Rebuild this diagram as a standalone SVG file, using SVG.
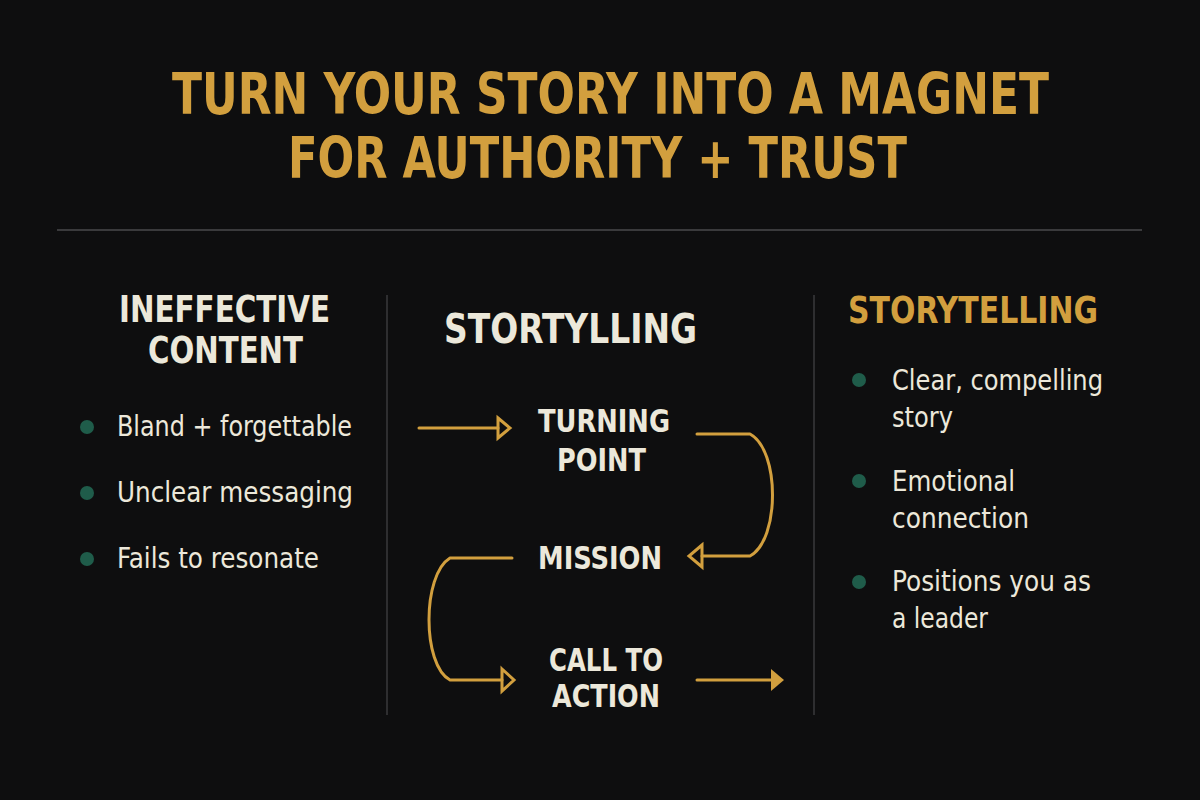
<svg xmlns="http://www.w3.org/2000/svg" width="1200" height="800" viewBox="0 0 1200 800">
<defs>
<style>
.bg{fill:#0e0e0f}
.title{font-family:"Liberation Sans Narrow","DejaVu Sans Condensed","Roboto",sans-serif;font-weight:bold;font-size:57px;fill:#d29f3e}
.head{font-family:"Liberation Sans Narrow","DejaVu Sans Condensed","Roboto",sans-serif;font-weight:bold;font-size:37px;fill:#ece8da}
.gold{fill:#d29f3e}
.step{font-family:"Liberation Sans Narrow","DejaVu Sans Condensed","Roboto",sans-serif;font-weight:bold;font-size:32px;fill:#ece8da;text-anchor:start}
.body{font-family:"Liberation Sans Narrow","DejaVu Sans Condensed","Roboto",sans-serif;font-size:29px;fill:#ece8da}
.dot{fill:#1f5c4a}
.rule{stroke:#3a3a3c;stroke-width:2}
.vrule{stroke:#3a3a3c;stroke-width:1.5}
.conn{fill:none;stroke:#d29f3e;stroke-width:3;stroke-linecap:round;stroke-linejoin:round}
.tri{fill:none;stroke:#d29f3e;stroke-width:3;stroke-linejoin:miter}
.trif{fill:#d29f3e}
</style>
</defs>
<rect class="bg" x="0" y="0" width="1200" height="800"/>

<g id="title">
<text class="title" x="172" y="114" textLength="877" lengthAdjust="spacingAndGlyphs">TURN YOUR STORY INTO A MAGNET</text>
<text class="title" x="288" y="178" textLength="619" lengthAdjust="spacingAndGlyphs">FOR AUTHORITY + TRUST</text>
</g>

<g id="dividers">
<line class="rule" x1="57" y1="230" x2="1142" y2="230"/>
<line class="vrule" x1="387" y1="295" x2="387" y2="715"/>
<line class="vrule" x1="814" y1="295" x2="814" y2="715"/>
</g>

<g id="ineffective">
<text class="head" x="119" y="322" textLength="211" lengthAdjust="spacingAndGlyphs">INEFFECTIVE</text>
<text class="head" x="148" y="363" textLength="155" lengthAdjust="spacingAndGlyphs">CONTENT</text>
<circle class="dot" cx="87" cy="427" r="7"/>
<text class="body" x="117" y="436" textLength="235" lengthAdjust="spacingAndGlyphs">Bland + forgettable</text>
<circle class="dot" cx="87" cy="493" r="7"/>
<text class="body" x="117" y="502" textLength="236" lengthAdjust="spacingAndGlyphs">Unclear messaging</text>
<circle class="dot" cx="87" cy="559" r="7"/>
<text class="body" x="117" y="568" textLength="202" lengthAdjust="spacingAndGlyphs">Fails to resonate</text>
</g>

<g id="stortylling">
<text class="head" x="444" y="343" textLength="253" lengthAdjust="spacingAndGlyphs" style="font-size:40px">STORTYLLING</text>
</g>

<g id="turning-point">
<text class="step" x="538" y="432" textLength="132" lengthAdjust="spacingAndGlyphs">TURNING</text>
<text class="step" x="557" y="471" textLength="89" lengthAdjust="spacingAndGlyphs">POINT</text>
</g>

<g id="mission">
<text class="step" x="538" y="569" textLength="124" lengthAdjust="spacingAndGlyphs">MISSION</text>
</g>

<g id="call-to-action">
<text class="step" x="549" y="671" textLength="114" lengthAdjust="spacingAndGlyphs">CALL TO</text>
<text class="step" x="552" y="707" textLength="108" lengthAdjust="spacingAndGlyphs">ACTION</text>
</g>

<g id="storytelling">
<text class="head gold" x="848" y="323" textLength="250" lengthAdjust="spacingAndGlyphs">STORYTELLING</text>
<circle class="dot" cx="859" cy="380" r="7"/>
<text class="body" x="892" y="390" textLength="211" lengthAdjust="spacingAndGlyphs">Clear, compelling</text>
<text class="body" x="892" y="427" textLength="61" lengthAdjust="spacingAndGlyphs">story</text>
<circle class="dot" cx="859" cy="481" r="7"/>
<text class="body" x="892" y="491" textLength="123" lengthAdjust="spacingAndGlyphs">Emotional</text>
<text class="body" x="892" y="528" textLength="137" lengthAdjust="spacingAndGlyphs">connection</text>
<circle class="dot" cx="859" cy="582" r="7"/>
<text class="body" x="892" y="591" textLength="199" lengthAdjust="spacingAndGlyphs">Positions you as</text>
<text class="body" x="892" y="628" textLength="96" lengthAdjust="spacingAndGlyphs">a leader</text>
</g>

<g id="connectors">
<path class="conn" d="M419 428 H498"/>
<path class="tri" d="M498 418 L510 428 L498 438 Z"/>
<path class="conn" d="M697 434 H750 C780 450 780 540 750 556 H702"/>
<path class="tri" d="M702 545 L689 556 L702 567 Z"/>
<path class="conn" d="M512 558 H450 C422 575 422 665 450 680 H502"/>
<path class="tri" d="M502 669 L514 680 L502 691 Z"/>
<path class="conn" d="M697 680 H772"/>
<path class="trif" d="M771 669 L784 680 L771 691 Z"/>
</g>
</svg>
